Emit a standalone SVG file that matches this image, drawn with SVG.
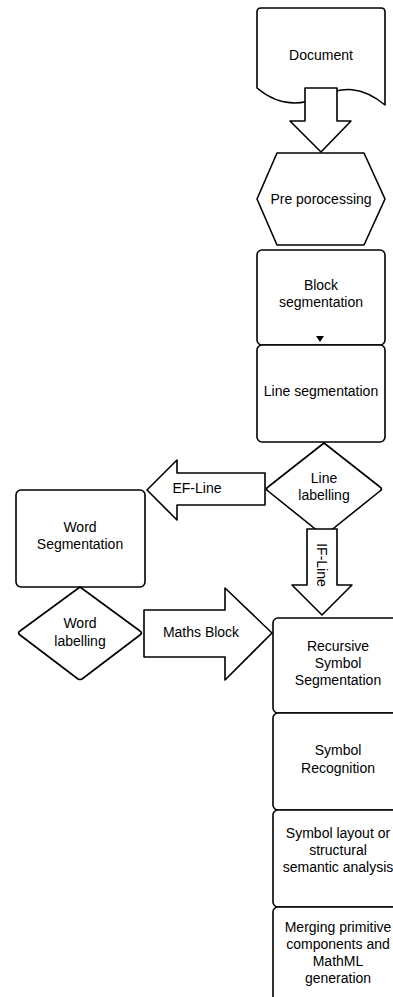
<svg xmlns="http://www.w3.org/2000/svg" width="393" height="997" viewBox="0 0 393 997">
<style>
.s{fill:#fff;stroke:#000;stroke-width:1.6;stroke-linejoin:round}
text{font-family:"Liberation Sans",Arial,sans-serif;font-size:14px;fill:#000;text-anchor:middle}
</style>
<rect width="393" height="997" fill="#fff"/>
<g id="document">
<path class="s" d="M261,8 H381 Q385,8 385,12 V105 C362,86 342,86 320,97 C298,107 276,104 257,88 V12 Q257,8 261,8 Z"/>
<text x="321" y="60">Document</text>
</g>
<g id="preprocessing">
<polygon class="s" points="277,153 364,153 385,199 364,245 277,245 257,199"/>
<text x="321" y="204">Pre porocessing</text>
</g>
<g id="block">
<rect class="s" x="257" y="250" width="128" height="95" rx="5"/>
<text x="321" y="290">Block</text>
<text x="321" y="307">segmentation</text>
<polygon points="316,336 324,336 320,342" fill="#000"/>
</g>
<g id="line">
<rect class="s" x="257" y="345" width="128" height="97" rx="5"/>
<text x="321" y="396">Line segmentation</text>
</g>
<g id="linelabelling">
<path class="s" d="M324,443 L380,487 Q383,489 380,491 L324,536 L268,491 Q265,489 268,487 Z"/>
<text x="324" y="483">Line</text>
<text x="324" y="500">labelling</text>
</g>
<g id="wordseg">
<rect class="s" x="16" y="490" width="129" height="97" rx="5"/>
<text x="80" y="532">Word</text>
<text x="80" y="549">Segmentation</text>
</g>
<g id="wordlabelling">
<path class="s" d="M80,587 L140,631 Q143,633 140,635 L82,679 Q80,680 78,679 L20,635 Q17,633 20,631 Z"/>
<text x="80" y="628">Word</text>
<text x="80" y="646">labelling</text>
</g>
<g id="recursive">
<rect class="s" x="273" y="618" width="130" height="95" rx="5"/>
<text x="338" y="651">Recursive</text>
<text x="338" y="668">Symbol</text>
<text x="338" y="685">Segmentation</text>
</g>
<g id="recognition">
<rect class="s" x="273" y="713" width="130" height="97" rx="5"/>
<text x="338" y="755">Symbol</text>
<text x="338" y="773">Recognition</text>
</g>
<g id="layout">
<rect class="s" x="273" y="810" width="130" height="97" rx="5"/>
<text x="338" y="838">Symbol layout or</text>
<text x="338" y="855">structural</text>
<text x="338" y="872">semantic analysis</text>
</g>
<g id="merging">
<rect class="s" x="273" y="907" width="130" height="100" rx="5"/>
<text x="338" y="932">Merging primitive</text>
<text x="338" y="949">components and</text>
<text x="338" y="966">MathML</text>
<text x="338" y="983">generation</text>
</g>
<g id="connectors">
<path class="s" d="M305,88 H337 V121 H351 L321,152 L290,121 H305 Z"/>
<path class="s" d="M265,473 V505 H177 V520 L147,490 L177,460 V473 Z"/>
<text x="197" y="493">EF-Line</text>
<path class="s" d="M307,529 H337 V585 H352 L322,615 L292,585 H307 Z"/>
<text x="322" y="565" transform="rotate(90 322 565)" dy="5">IF-Line</text>
<path class="s" d="M144,610 H225 V588 L272,633 L225,680 V657 H144 Z"/>
<text x="201" y="637">Maths Block</text>
</g>
</svg>
